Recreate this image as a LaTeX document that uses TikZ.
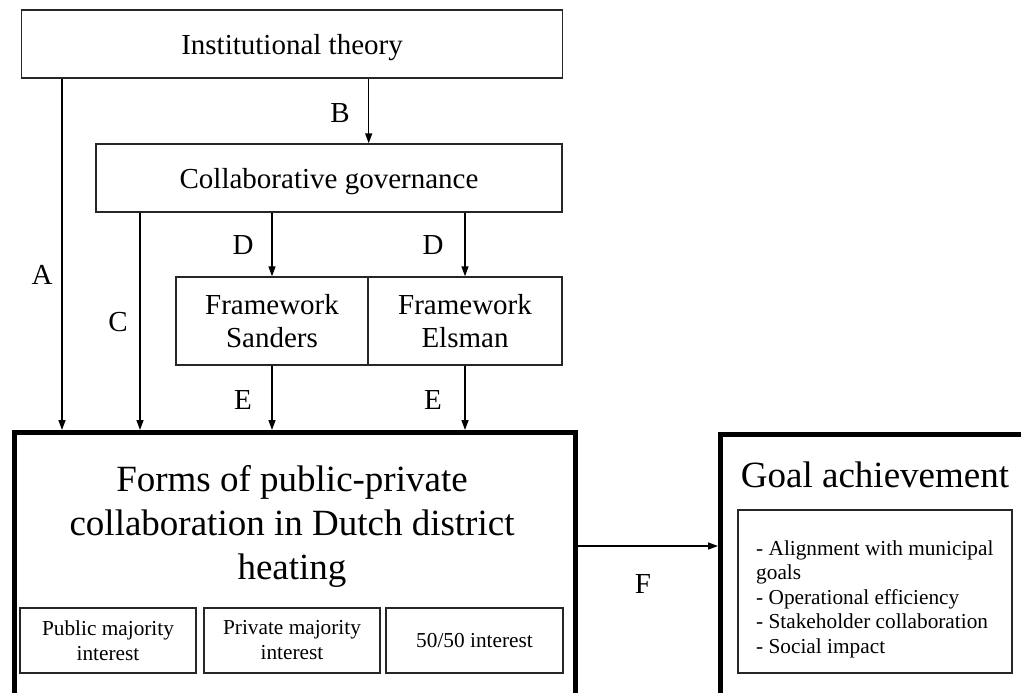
\documentclass[tikz,border=0pt]{standalone}
\usepackage{fontspec}
\setmainfont{Liberation Serif}
\usetikzlibrary{
    arrows.meta,  % For arrow tips
    positioning   % For relative placement
}

\begin{document}
\begin{tikzpicture}[
    x=1pt, y=-1pt,
    >={Triangle[length=10pt,width=7pt]}, % Set default arrow tip style
    box/.style={draw=black!85, line width=1.4pt, inner sep=0pt, align=center,
        text depth=0pt, font=\fontsize{29}{33}\selectfont},
    bigbox/.style={draw=black, line width=4.5pt, inner sep=0pt},
    smallbox/.style={draw=black!85, line width=1.4pt, inner sep=0pt, align=center,
        minimum height=65pt, font=\fontsize{21.3}{25}\selectfont},
    link/.style={->, line width=1.4pt}, % Style for connectors
    lbl/.style={font=\fontsize{29}{33}\selectfont}
]

    % Page frame
    \useasboundingbox (0,0) rectangle (1021,693);
    \clip (0,0) rectangle (1021,693);

    % Theory boxes
    \node[box, minimum width=541pt, minimum height=68pt] (inst) at (292,44) {Institutional theory};
    \node[box, minimum width=466pt, minimum height=68pt] (collab) at (329,178) {Collaborative governance};

    % Frameworks
    \node[box, minimum width=192pt, minimum height=88pt] (sanders) at (272,321) {Framework\\Sanders};
    \node[box, minimum width=194pt, minimum height=88pt] (elsman) at (465,321) {Framework\\Elsman};

    % Forms of collaboration (runs off the bottom)
    \node[bigbox, minimum width=561pt, minimum height=300pt, anchor=north west] (forms) at (12,430) {};
    \node[font=\fontsize{37}{44}\selectfont, align=center, text depth=0pt] (formstitle) at (292,522)
        {Forms of public-private\\collaboration in Dutch district\\heating};
    \node[smallbox, minimum width=176pt] (public) at (108,640.5) {Public majority\\interest};
    \node[smallbox, minimum width=176pt] (private) at (292,640.5) {Private majority\\interest};
    \node[smallbox, minimum width=177pt] (fifty) at (474.5,640.5) {50/50 interest};

    % Goal achievement (runs off the right)
    \node[bigbox, minimum width=330pt, minimum height=300pt, anchor=north west] (goal) at (718,432) {};
    \node[font=\fontsize{37}{43}\selectfont] (goaltitle) at (875,475) {Goal achievement};
    \node[smallbox, minimum width=274pt, minimum height=163pt] (goallist) at (875,591.5) {};
    \node[font=\fontsize{21.3}{24.5}\selectfont, align=left, inner sep=0pt, text depth=0pt,
        anchor=west] (goaltext) at (756,597)
        {- Alignment with municipal\\goals\\- Operational efficiency\\- Stakeholder collaboration\\- Social impact};

    % Connector positions
    \coordinate (xa) at (62,0);
    \coordinate (xc) at (140,0);
    \coordinate (yf) at (0,546);

    % Connectors
    \draw[link] (inst.south -| xa) -- (forms.north -| xa);
    \draw[link] (inst.south -| sanders.east) -- (collab.north -| sanders.east);
    \draw[link] (collab.south -| xc) -- (forms.north -| xc);
    \draw[link] (collab.south -| sanders.north) -- (sanders.north);
    \draw[link] (collab.south -| elsman.north) -- (elsman.north);
    \draw[link] (sanders.south) -- (forms.north -| sanders.south);
    \draw[link] (elsman.south) -- (forms.north -| elsman.south);
    \draw[link] (forms.east |- yf) -- (goal.west |- yf);

    % Connector labels
    \node[lbl] (labA) at (42,275) {A};
    \node[lbl] (labB) at (340,113) {B};
    \node[lbl] (labC) at (118,322) {C};
    \node[lbl] (labD1) at (243,245) {D};
    \node[lbl] (labD2) at (433,245) {D};
    \node[lbl] (labE1) at (243,400) {E};
    \node[lbl] (labE2) at (433,400) {E};
    \node[lbl] (labF) at (643,584) {F};

\end{tikzpicture}
\end{document}
